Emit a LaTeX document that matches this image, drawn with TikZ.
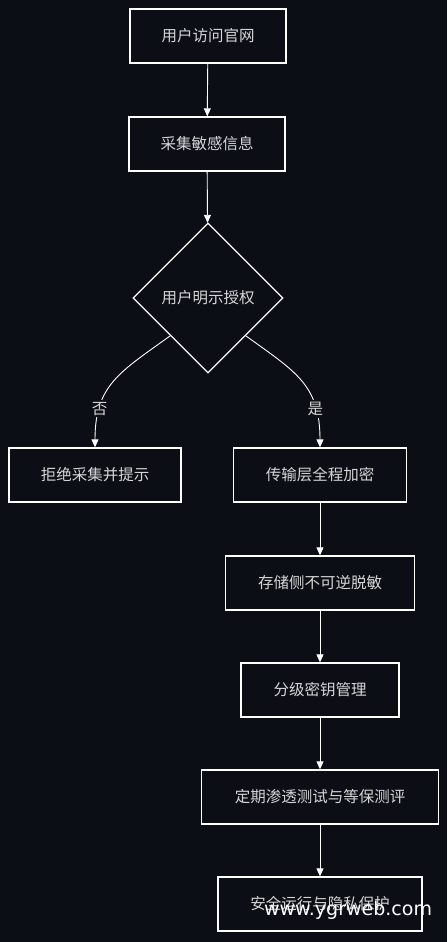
\documentclass[tikz,border=0pt]{standalone}
\usepackage{fontspec}
\newfontfamily\cjk{Noto Sans CJK SC}
\newfontfamily\wm{DejaVu Sans}
\usetikzlibrary{shapes.geometric,arrows.meta}
\definecolor{bg}{HTML}{0B0E15}
\definecolor{txt}{HTML}{D6D6D6}

\tikzset{
  stepbox/.style={draw=white, line width=1.3pt, fill=bg, text=txt, font=\cjk\fontsize{15.5}{18}\selectfont,
    minimum height=54pt, inner sep=0pt},
  choice/.style={diamond, draw=white, line width=1.3pt, fill=bg, text=txt, font=\cjk\fontsize{15.5}{18}\selectfont,
    minimum size=150pt, inner sep=0pt},
  edge/.style={draw=white, line width=0.9pt, -{Triangle[length=8pt,width=7pt]}},
  lbl/.style={fill=bg, text=txt, font=\cjk\fontsize{15.5}{18}\selectfont, inner sep=2pt}
}

\begin{document}
\begin{tikzpicture}[x=1pt,y=-1pt]
% fondo
\fill[bg] (0,0) rectangle (447,942);
\useasboundingbox (0,0) rectangle (447,942);

% tronco principal
\node[stepbox, minimum width=156pt] (visit) at (208,36) {用户访问官网};
\node[stepbox, minimum width=156pt] (collect) at (207,144) {采集敏感信息};
\node[choice] (consent) at (208,298) {用户明示授权};

% ramas
\node[stepbox, minimum width=172pt] (refuse) at (95,475) {拒绝采集并提示};
\node[stepbox, minimum width=173pt] (encrypt) at (320,475) {传输层全程加密};
\node[stepbox, minimum width=189pt] (mask) at (320,583) {存储侧不可逆脱敏};
\node[stepbox, minimum width=158pt] (keys) at (320,690) {分级密钥管理};
\node[stepbox, minimum width=237pt] (pentest) at (320,797) {定期渗透测试与等保测评};
\node[stepbox, minimum width=204pt] (safe) at (320,904) {安全运行与隐私保护};

% flechas
\draw[edge] (visit) -- (collect);
\draw[edge] (collect) -- (consent);
\draw[edge] (consent.-135) .. controls (120,372) and (95,385) .. (refuse.north)
  node[lbl, pos=0.75] {否};
\draw[edge] (consent.-45) .. controls (296,372) and (320,385) .. (encrypt.north)
  node[lbl, pos=0.75] {是};
\draw[edge] (encrypt) -- (mask);
\draw[edge] (mask) -- (keys);
\draw[edge] (keys) -- (pentest);
\draw[edge] (pentest) -- (safe);

% marca de agua
\node[text=white, font=\wm\fontsize{19}{22}\selectfont, inner sep=0pt] (mark) at (348,910) {www.ygrweb.com};
\end{tikzpicture}
\end{document}
